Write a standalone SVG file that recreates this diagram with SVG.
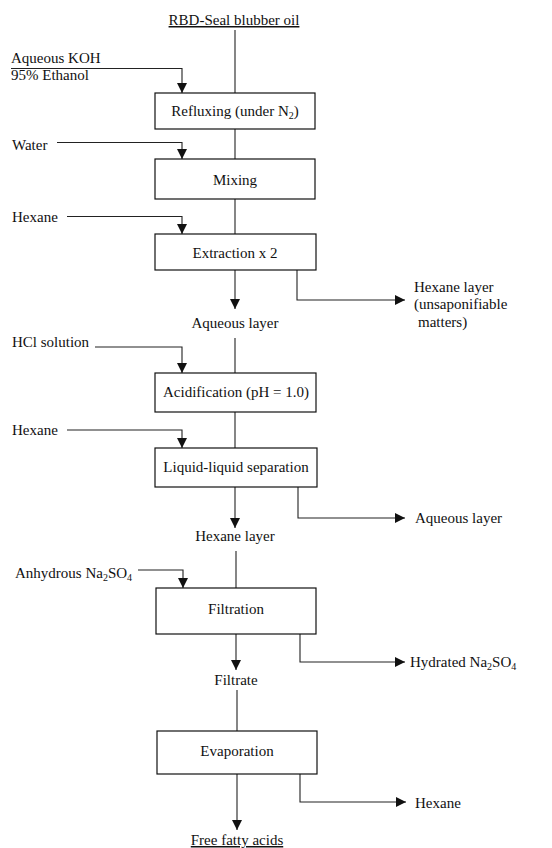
<svg xmlns="http://www.w3.org/2000/svg" width="552" height="848" viewBox="0 0 552 848">
<defs>
<marker id="ah" markerUnits="userSpaceOnUse" markerWidth="11" markerHeight="11" refX="10" refY="5" orient="auto"><path d="M0,0 L10,5 L0,10 z" fill="#111"/></marker>
<style>
text{font-family:"Liberation Serif","Times New Roman",serif;font-size:15px;fill:#111}
.c{text-anchor:middle}
.box{fill:#fff;stroke:#111;stroke-width:1.2}
.ln{fill:none;stroke:#222;stroke-width:1.1}
.ar{fill:none;stroke:#222;stroke-width:1.1;marker-end:url(#ah)}
</style>
</defs>
<rect width="552" height="848" fill="#fff"/>
<g id="connectors">
<path class="ln" d="M235,30 V93"/>
<path class="ar" d="M11,68.5 H182 V93"/>
<path class="ln" d="M235,129 V159"/>
<path class="ar" d="M57,142.5 H182 V159"/>
<path class="ln" d="M235,199 V234"/>
<path class="ar" d="M67,216.5 H182 V234"/>
<path class="ar" d="M235,270 V309"/>
<path class="ar" d="M297,270 V300 H405"/>
<path class="ln" d="M235,338 V373"/>
<path class="ar" d="M95,347 H182 V373"/>
<path class="ln" d="M235,412 V448"/>
<path class="ar" d="M67,430 H182 V448"/>
<path class="ar" d="M235,487 V528"/>
<path class="ar" d="M298,487 V518 H405"/>
<path class="ln" d="M236,551 V588"/>
<path class="ar" d="M138,570 H183 V588"/>
<path class="ar" d="M236,634 V670"/>
<path class="ar" d="M300,634 V662 H405"/>
<path class="ln" d="M237,690 V731"/>
<path class="ar" d="M237,774 V830"/>
<path class="ar" d="M300,774 V802 H406"/>
</g>
<g id="n-oil"><text class="c" x="234" y="25" text-decoration="underline">RBD-Seal blubber oil</text></g>
<g id="n-koh"><text x="11" y="63">Aqueous KOH</text><text x="11" y="80">95% Ethanol</text></g>
<g id="n-reflux"><rect class="box" x="155" y="93" width="160" height="36"/><text class="c" x="235" y="116">Refluxing (under N<tspan font-size="10" dy="3">2</tspan><tspan dy="-3">)</tspan></text></g>
<g id="n-water"><text x="12" y="150">Water</text></g>
<g id="n-mixing"><rect class="box" x="155" y="159" width="160" height="40"/><text class="c" x="235" y="185">Mixing</text></g>
<g id="n-hexane1"><text x="12" y="222">Hexane</text></g>
<g id="n-extraction"><rect class="box" x="155" y="234" width="161" height="36"/><text class="c" x="235" y="258">Extraction x 2</text></g>
<g id="n-hexlayer1"><text x="414" y="292">Hexane layer</text><text x="414" y="309">(unsaponifiable</text><text x="418" y="327">matters)</text></g>
<g id="n-aq1"><text class="c" x="235" y="328">Aqueous layer</text></g>
<g id="n-hcl"><text x="12" y="347">HCl solution</text></g>
<g id="n-acid"><rect class="box" x="155" y="373" width="161" height="39"/><text class="c" x="236" y="397">Acidification (pH = 1.0)</text></g>
<g id="n-hexane2"><text x="12" y="435">Hexane</text></g>
<g id="n-lls"><rect class="box" x="155" y="448" width="162" height="39"/><text class="c" x="236" y="472">Liquid-liquid separation</text></g>
<g id="n-aq2"><text x="415" y="523">Aqueous layer</text></g>
<g id="n-hexlayer2"><text class="c" x="235" y="541">Hexane layer</text></g>
<g id="n-na2so4"><text x="15" y="578">Anhydrous Na<tspan font-size="10" dy="3">2</tspan><tspan dy="-3">SO</tspan><tspan font-size="10" dy="3">4</tspan></text></g>
<g id="n-filtration"><rect class="box" x="156" y="588" width="160" height="46"/><text class="c" x="236" y="614">Filtration</text></g>
<g id="n-hydrated"><text x="410" y="667">Hydrated Na<tspan font-size="10" dy="3">2</tspan><tspan dy="-3">SO</tspan><tspan font-size="10" dy="3">4</tspan></text></g>
<g id="n-filtrate"><text class="c" x="236" y="685">Filtrate</text></g>
<g id="n-evap"><rect class="box" x="157" y="731" width="160" height="43"/><text class="c" x="237" y="756">Evaporation</text></g>
<g id="n-hexane3"><text x="415" y="808">Hexane</text></g>
<g id="n-ffa"><text class="c" x="237" y="845" text-decoration="underline">Free fatty acids</text></g>
</svg>
